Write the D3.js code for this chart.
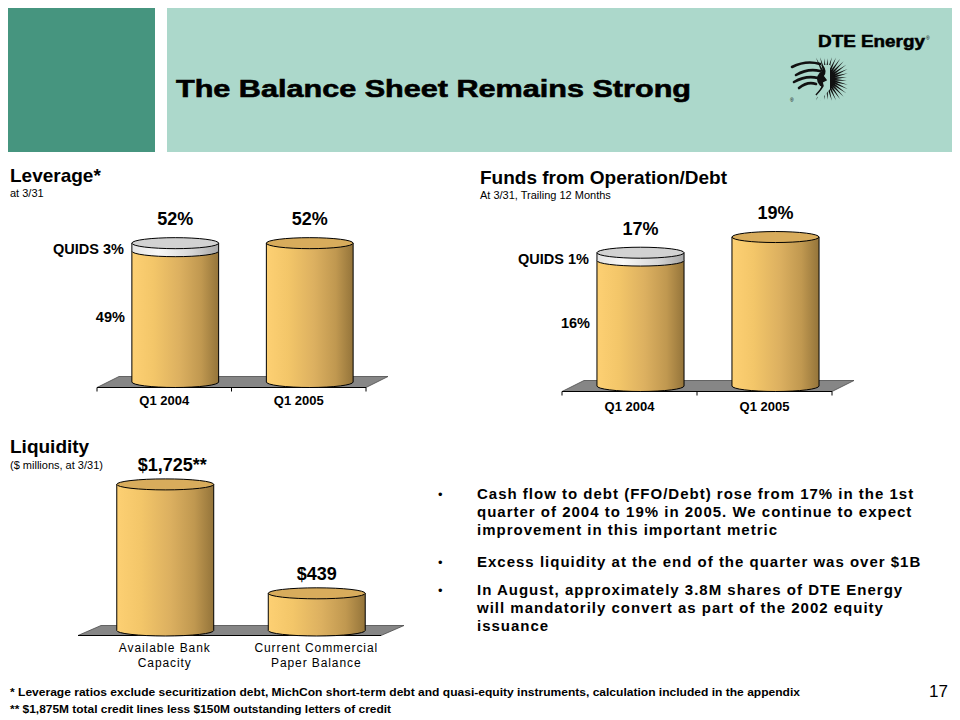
<!DOCTYPE html>
<html><head><meta charset="utf-8">
<script src="https://cdn.jsdelivr.net/npm/d3@7"></script>
<style>
html,body{margin:0;padding:0;background:#fff;}
svg{display:block;font-family:"Liberation Sans",Arial,sans-serif;}
</style></head>
<body>
<svg id="chart" width="960" height="720"></svg>
<script>
// ---------- DATA ----------
const slideTitle = "The Balance Sheet Remains Strong";
const pageNumber = "17";

const leverageCategories = ["Q1 2004", "Q1 2005"];
const leverageBase = [49, 52];
const leverageQuids = [3, 0];
const leverageTopLabels = ["52%", "52%"];
const leverageSideLabels = ["QUIDS 3%", "49%"];

const ffoCategories = ["Q1 2004", "Q1 2005"];
const ffoBase = [16, 19];
const ffoQuids = [1, 0];
const ffoTopLabels = ["17%", "19%"];
const ffoSideLabels = ["QUIDS 1%", "16%"];

const liquidityCategories = [["Available Bank", "Capacity"], ["Current Commercial", "Paper Balance"]];
const liquidityValues = [1725, 439];
const liquidityLabels = ["$1,725", "$439"];
const liquidityLabelSuffix = ["**", ""];

const bullets = [
  ["Cash flow to debt (FFO/Debt) rose from 17% in the 1st", "quarter of 2004 to 19% in 2005.  We continue to expect", "improvement in this important metric"],
  ["Excess liquidity at the end of the quarter was over $1B"],
  ["In August, approximately 3.8M shares of DTE Energy", "will mandatorily convert as part of the 2002 equity", "issuance"]
];
const footnotes = [
  "*  Leverage ratios exclude securitization debt, MichCon short-term debt and quasi-equity instruments, calculation included in the appendix",
  "** $1,875M total credit lines less $150M outstanding letters of credit"
];

// ---------- SETUP ----------
const svg = d3.select("#chart");
const defs = svg.append("defs");
function hGrad(id, stops) {
  const g = defs.append("linearGradient").attr("id", id).attr("x1", "0%").attr("x2", "100%").attr("y1", "0%").attr("y2", "0%");
  stops.forEach(s => g.append("stop").attr("offset", s[0]).attr("stop-color", s[1]));
}
hGrad("gold", [["0%", "#fdd073"], ["25%", "#f3c669"], ["55%", "#dcb060"], ["80%", "#c09850"], ["100%", "#94743a"]]);
hGrad("silver", [["0%", "#e4e4e4"], ["30%", "#f8f8f8"], ["70%", "#d6d6d6"], ["100%", "#a8a8a8"]]);

// ---------- HEADER ----------
svg.append("rect").attr("x", 8).attr("y", 8).attr("width", 147).attr("height", 144).attr("fill", "#46957f");
svg.append("rect").attr("x", 167).attr("y", 8).attr("width", 785).attr("height", 144).attr("fill", "#acd8cb");
svg.append("text").attr("x", 176).attr("y", 97).text(slideTitle)
  .attr("font-size", 24).attr("font-weight", "bold").attr("fill", "#000")
  .attr("stroke", "#000").attr("stroke-width", 0.6)
  .attr("textLength", 515).attr("lengthAdjust", "spacingAndGlyphs");

// logo
svg.append("text").attr("x", 818).attr("y", 47).text("DTE Energy")
  .attr("font-size", 16).attr("font-weight", "bold").attr("stroke", "#000").attr("stroke-width", 0.5)
  .attr("textLength", 107).attr("lengthAdjust", "spacingAndGlyphs");
svg.append("text").attr("x", 926).attr("y", 40).text("®").attr("font-size", 5);
const logo = svg.append("g").attr("transform", "translate(826,79)");
d3.range(-25, 215, 10).forEach(a => {
  const r = a * Math.PI / 180;
  const len = 20 + 5 * Math.abs(Math.sin(r * 2));
  logo.append("path")
    .attr("d", `M${7 * Math.sin(r) - 1.2 * Math.cos(r)},${-7 * Math.cos(r) - 1.2 * Math.sin(r)} L${len * Math.sin(r)},${-len * Math.cos(r)} L${7 * Math.sin(r) + 1.2 * Math.cos(r)},${-7 * Math.cos(r) + 1.2 * Math.sin(r)} Z`)
    .attr("fill", "#111");
});
logo.append("circle").attr("cx", 0).attr("cy", 0).attr("r", 9).attr("fill", "#111");
logo.append("path").attr("d", "M-4,-14 C-1,-10 0,-6 -3,-3 L0,1 L-4,3 L-3,7 C-5,11 -8,13 -10,16 L-6,22 L4,10 L4,-14 Z")
  .attr("fill", "#acd8cb");
logo.append("path").attr("d", "M-4,-14 C-1,-10 0,-6 -3,-3 L0,1 L-4,3 L-3,7 C-5,11 -8,13 -10,16")
  .attr("fill", "none").attr("stroke", "#111").attr("stroke-width", 1.5);
[[-34, -12, -6, -15], [-30, -4, -6, -8], [-32, 3, -8, -1], [-27, 9, -10, 5]].forEach(h => {
  logo.append("path").attr("d", `M${h[0]},${h[1]} Q${(h[0] + h[2]) / 2},${h[1] - 7} ${h[2]},${h[3]}`)
    .attr("fill", "none").attr("stroke", "#111").attr("stroke-width", 2.6).attr("stroke-linecap", "round");
});
svg.append("text").attr("x", 790).attr("y", 102).text("®").attr("font-size", 5);

// ---------- CYLINDER CHART ----------
function cylChart(o) {
  const g = svg.append("g");
  const x = d3.scaleBand().domain(o.categories.map((d, i) => i)).range([o.left, o.right]).padding(0);
  const y = d3.scaleLinear().domain(o.domain).range([o.front - o.dy / 2, o.top]);
  const bw = x.bandwidth();
  const rx = bw * o.widthFrac / 2, ry = 5.5;
  // floor
  g.append("path")
    .attr("d", `M${o.left},${o.front} L${o.left + o.dx},${o.front - o.dy} L${o.right + o.dx},${o.front - o.dy} L${o.right},${o.front} Z`)
    .attr("fill", "#868686").attr("stroke", "#4a4a4a").attr("stroke-width", 0.8);
  g.append("line").attr("x1", o.left).attr("x2", o.right).attr("y1", o.front).attr("y2", o.front)
    .attr("stroke", "#000").attr("stroke-width", 1);
  if (o.ticks) {
    const edges = o.categories.map((d, i) => x(i)).concat([o.right]);
    g.selectAll(".tk").data(edges).join("line").attr("x1", d => d).attr("x2", d => d)
      .attr("y1", o.front).attr("y2", o.front + 4).attr("stroke", "#000");
  }
  function body(cx, yb, yt, fill) {
    return g.append("path")
      .attr("d", `M${cx - rx},${yt} L${cx - rx},${yb} A${rx},${ry} 0 0 0 ${cx + rx},${yb} L${cx + rx},${yt} Z`)
      .attr("fill", fill).attr("stroke", "#000").attr("stroke-width", 1);
  }
  o.categories.forEach((c, i) => {
    const cx = x(i) + bw / 2 + o.dx / 2;
    const y0 = y(0), yb = y(o.base[i]);
    body(cx, y0, yb, "url(#gold)");
    let ytop = yb, topFill = "#d8ac5c";
    if (o.quids && o.quids[i] > 0) {
      ytop = y(o.base[i] + o.quids[i]);
      body(cx, yb, ytop, "url(#silver)");
      topFill = "#d2d2d2";
    }
    g.append("ellipse").attr("cx", cx).attr("cy", ytop).attr("rx", rx).attr("ry", ry)
      .attr("fill", topFill).attr("stroke", "#000").attr("stroke-width", 1);
    // top value label
    const t = g.append("text").attr("y", ytop - o.labelGap).attr("font-size", o.labelSize).attr("font-weight", "bold")
      .attr("text-anchor", "middle").attr("x", cx).text(o.topLabels[i]);
    if (o.suffix && o.suffix[i]) {
      const w = t.node().getComputedTextLength();
      t.attr("text-anchor", "start").attr("x", cx - w / 2);
      t.append("tspan").text(o.suffix[i]);
    }
    // category label
    const lx = x(i) + bw / 2 + (o.catShift || 0);
    const lines = Array.isArray(c) ? c : [c];
    lines.forEach((ln, k) => {
      g.append("text").attr("x", lx).attr("y", o.catY + k * 15).attr("text-anchor", "middle")
        .attr("font-size", o.catSize).attr("font-weight", o.catWeight).attr("letter-spacing", o.catSpacing || 0)
        .text(ln);
    });
  });
  // side labels for the first cylinder
  if (o.sideLabels) {
    const q = o.base[0] + o.quids[0];
    const lxr = x(0) + bw / 2 + o.dx / 2 - rx - 8;
    g.append("text").attr("x", lxr).attr("y", (y(q) + y(o.base[0])) / 2 + 7).attr("text-anchor", "end")
      .attr("font-size", 14.5).attr("font-weight", "bold").text(o.sideLabels[0]);
    g.append("text").attr("x", lxr + 1).attr("y", y(o.base[0] / 2) + 5).attr("text-anchor", "end")
      .attr("font-size", 14.5).attr("font-weight", "bold").text(o.sideLabels[1]);
  }
  return g;
}

// section titles
function sectionTitle(x, y, title, sub, subGap) {
  svg.append("text").attr("x", x).attr("y", y).attr("font-size", 19).attr("font-weight", "bold").text(title);
  svg.append("text").attr("x", x).attr("y", y + subGap).attr("font-size", 11).text(sub);
}
sectionTitle(10, 182, "Leverage*", "at 3/31", 15);
sectionTitle(480, 184, "Funds from Operation/Debt", "At 3/31, Trailing 12 Months", 15);
sectionTitle(10, 453, "Liquidity", "($ millions, at 3/31)", 16);

cylChart({
  categories: leverageCategories, base: leverageBase, quids: leverageQuids,
  topLabels: leverageTopLabels, sideLabels: leverageSideLabels,
  left: 97, right: 366, front: 387.5, dx: 22, dy: 11,
  domain: [0, 60], top: 382 - 60 * 2.67, widthFrac: 0.645,
  labelGap: 18, labelSize: 18, ticks: true,
  catY: 405, catSize: 13, catWeight: "bold"
});
cylChart({
  categories: ffoCategories, base: ffoBase, quids: ffoQuids,
  topLabels: ffoTopLabels, sideLabels: ffoSideLabels,
  left: 562, right: 832, front: 391.5, dx: 22, dy: 11,
  domain: [0, 20], top: 386 - 20 * 7.84, widthFrac: 0.645,
  labelGap: 18, labelSize: 18, ticks: true,
  catY: 411, catSize: 13, catWeight: "bold"
});
cylChart({
  categories: liquidityCategories, base: liquidityValues, quids: null,
  topLabels: liquidityLabels, suffix: liquidityLabelSuffix,
  left: 78, right: 381, front: 635.5, dx: 23, dy: 10,
  domain: [0, 2000], top: 630.5 - 2000 * 0.0847, widthFrac: 0.64,
  labelGap: 13, labelSize: 18, ticks: false,
  catY: 652, catSize: 12, catWeight: "normal", catSpacing: 0.9, catShift: 11
});

// ---------- BULLETS ----------
const bulletStarts = [499, 567, 595];
bullets.forEach((b, i) => {
  svg.append("text").attr("x", 438).attr("y", bulletStarts[i]).attr("font-size", 13).text("•");
  b.forEach((ln, k) => {
    svg.append("text").attr("x", 477).attr("y", bulletStarts[i] + k * 18)
      .attr("font-size", 15).attr("font-weight", "bold").attr("letter-spacing", 1.0).text(ln);
  });
});

// ---------- FOOTNOTES ----------
svg.append("text").attr("x", 10).attr("y", 696).attr("font-size", 11).attr("font-weight", "bold")
  .attr("font-family", "'Liberation Sans Narrow','Liberation Sans',Arial,sans-serif")
  .attr("textLength", 790).attr("lengthAdjust", "spacingAndGlyphs").text(footnotes[0]);
svg.append("text").attr("x", 10).attr("y", 713).attr("font-size", 11).attr("font-weight", "bold")
  .attr("font-family", "'Liberation Sans Narrow','Liberation Sans',Arial,sans-serif")
  .attr("textLength", 381).attr("lengthAdjust", "spacingAndGlyphs").text(footnotes[1]);
svg.append("text").attr("x", 948).attr("y", 697).attr("text-anchor", "end").attr("font-size", 17).text(pageNumber);
</script>
</body></html>
